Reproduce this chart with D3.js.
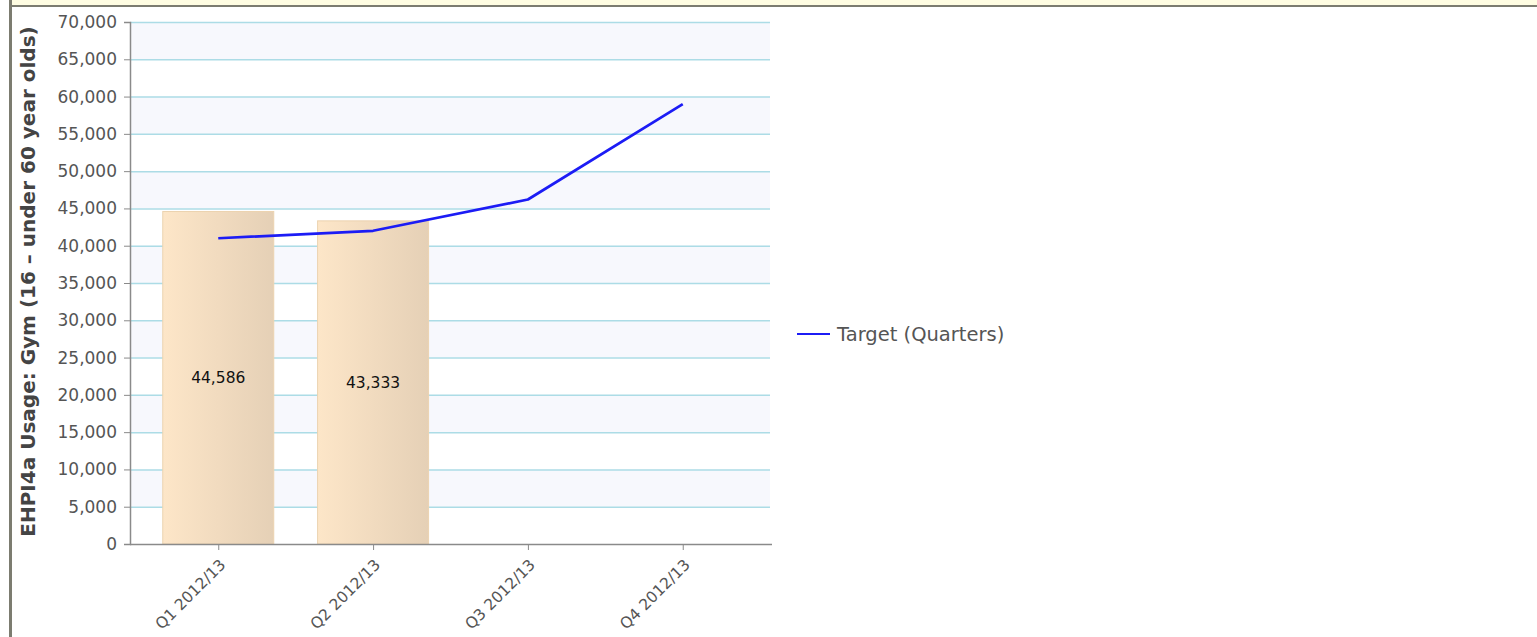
<!DOCTYPE html>
<html>
<head>
<meta charset="utf-8">
<script src="https://cdn.jsdelivr.net/npm/d3@7/dist/d3.min.js"></script>
<style>
  html, body { margin: 0; padding: 0; background: #fff; }
  svg { display: block; }
  text { font-family: "DejaVu Sans", Verdana, sans-serif; }
</style>
</head>
<body>
<svg id="chart" width="1537" height="637"></svg>
<script>
// ---- data ----
const categories = ["Q1 2012/13", "Q2 2012/13", "Q3 2012/13", "Q4 2012/13"];
const actualValues = [44586, 43333, null, null];
const targetValues = [41000, 42000, 46200, 59000];
const yTicks = [0, 5000, 10000, 15000, 20000, 25000, 30000, 35000, 40000, 45000, 50000, 55000, 60000, 65000, 70000];
const yTitle = "EHPI4a Usage: Gym (16 \u2013 under 60 year olds)";
const legendLabel = "Target (Quarters)";

const svg = d3.select("#chart");
const W = 1537, H = 637;

// page frame
svg.append("rect").attr("x", 12).attr("y", 0).attr("width", W - 12).attr("height", 5).attr("fill", "#fffde2");
svg.append("rect").attr("x", 12).attr("y", 5).attr("width", W - 12).attr("height", 2).attr("fill", "#7c7c70");
svg.append("rect").attr("x", 9).attr("y", 0).attr("width", 3).attr("height", H).attr("fill", "#7c7c70");

const plot = { left: 130, right: 770, top: 22, bottom: 544 };

const x = d3.scalePoint().domain(categories).range([plot.left, plot.right + 1]).padding(0.57);
const y = d3.scaleLinear().domain([0, 70000]).range([plot.bottom, plot.top]);

const g = svg.append("g");

// alternating bands
const bandStarts = yTicks.slice(0, -1);
g.selectAll("rect.band").data(bandStarts.filter((d, i) => i % 2 === 1)).enter()
  .append("rect").attr("class", "band")
  .attr("x", plot.left).attr("width", plot.right - plot.left)
  .attr("y", d => y(d + 5000)).attr("height", d => y(d) - y(d + 5000))
  .attr("fill", "#f7f8fd");

// gridlines
g.selectAll("line.grid").data(yTicks.filter(d => d > 0)).enter()
  .append("line").attr("class", "grid")
  .attr("x1", plot.left).attr("x2", plot.right)
  .attr("y1", d => y(d) + 0.5).attr("y2", d => y(d) + 0.5)
  .attr("stroke", "#acdce6").attr("stroke-width", 1.5);

// bar gradient
const defs = svg.append("defs");
const grad = defs.append("linearGradient").attr("id", "barGrad").attr("x1", "0").attr("x2", "1").attr("y1", "0").attr("y2", "0");
grad.append("stop").attr("offset", "0%").attr("stop-color", "#fde6c8");
grad.append("stop").attr("offset", "100%").attr("stop-color", "#e5d0b6");

const barW = 112;
const barData = categories.map((c, i) => ({ c, v: actualValues[i] })).filter(d => d.v != null);
g.selectAll("rect.bar").data(barData).enter()
  .append("rect").attr("class", "bar")
  .attr("x", d => x(d.c) - barW / 2 + 0.5).attr("width", barW - 1)
  .attr("y", d => y(d.v)).attr("height", d => y(0) - y(d.v))
  .attr("fill", "url(#barGrad)").attr("stroke", "#ecd3b0").attr("stroke-width", 1);

// bar labels
const fmt = d3.format(",");
g.selectAll("text.barlabel").data(barData).enter()
  .append("text").attr("class", "barlabel")
  .attr("x", d => x(d.c)).attr("y", d => (y(d.v) + y(0)) / 2)
  .attr("text-anchor", "middle").attr("dy", "0.35em")
  .attr("font-size", "15.5px").attr("fill", "#111")
  .text(d => fmt(d.v));

// target line
const line = d3.line().x((d, i) => x(categories[i])).y(d => y(d));
g.append("path").datum(targetValues).attr("d", line)
  .attr("fill", "none").attr("stroke", "#1c1cf5").attr("stroke-width", 2.7).attr("stroke-linejoin", "round");

// y axis
const yAxis = d3.axisLeft(y).tickValues(yTicks).tickSize(6).tickPadding(7).tickFormat(fmt);
const ya = svg.append("g").attr("transform", `translate(${plot.left},0)`).call(yAxis);
ya.select(".domain").attr("stroke", "#8a8a8a").attr("stroke-width", 1.5);
ya.selectAll(".tick line").attr("stroke", "#8a8a8a");
ya.selectAll(".tick text").attr("font-size", "17px").attr("fill", "#555").attr("font-family", "DejaVu Sans, sans-serif");

// x axis
const xAxis = d3.axisBottom(x).tickSize(6).tickSizeOuter(0).tickPadding(4);
const xa = svg.append("g").attr("transform", `translate(0,${plot.bottom})`).call(xAxis);
xa.select(".domain").attr("d", `M${plot.left},0.5H${plot.right + 2}`).attr("stroke", "#8a8a8a").attr("stroke-width", 1.5);
xa.selectAll(".tick line").attr("stroke", "#8a8a8a");
xa.selectAll(".tick text")
  .attr("font-size", "15.5px").attr("fill", "#555").attr("font-family", "DejaVu Sans, sans-serif")
  .attr("text-anchor", "end")
  .attr("transform", "translate(0,14) rotate(-45)")
  .attr("dy", "0.7em").attr("y", 0).attr("x", 0);

// y title
svg.append("text")
  .attr("transform", `translate(35,${(25 + 538) / 2}) rotate(-90)`)
  .attr("text-anchor", "middle")
  .attr("font-size", "20px").attr("font-weight", "bold").attr("fill", "#444")
  .text(yTitle);

// legend
const lg = svg.append("g").attr("transform", "translate(797,334)");
lg.append("line").attr("x1", 0).attr("x2", 33).attr("y1", 0).attr("y2", 0).attr("stroke", "#1c1cf5").attr("stroke-width", 2);
lg.append("text").attr("x", 40).attr("y", 0).attr("dy", "0.35em")
  .attr("font-size", "19.5px").attr("fill", "#555").text(legendLabel);
</script>
</body>
</html>
